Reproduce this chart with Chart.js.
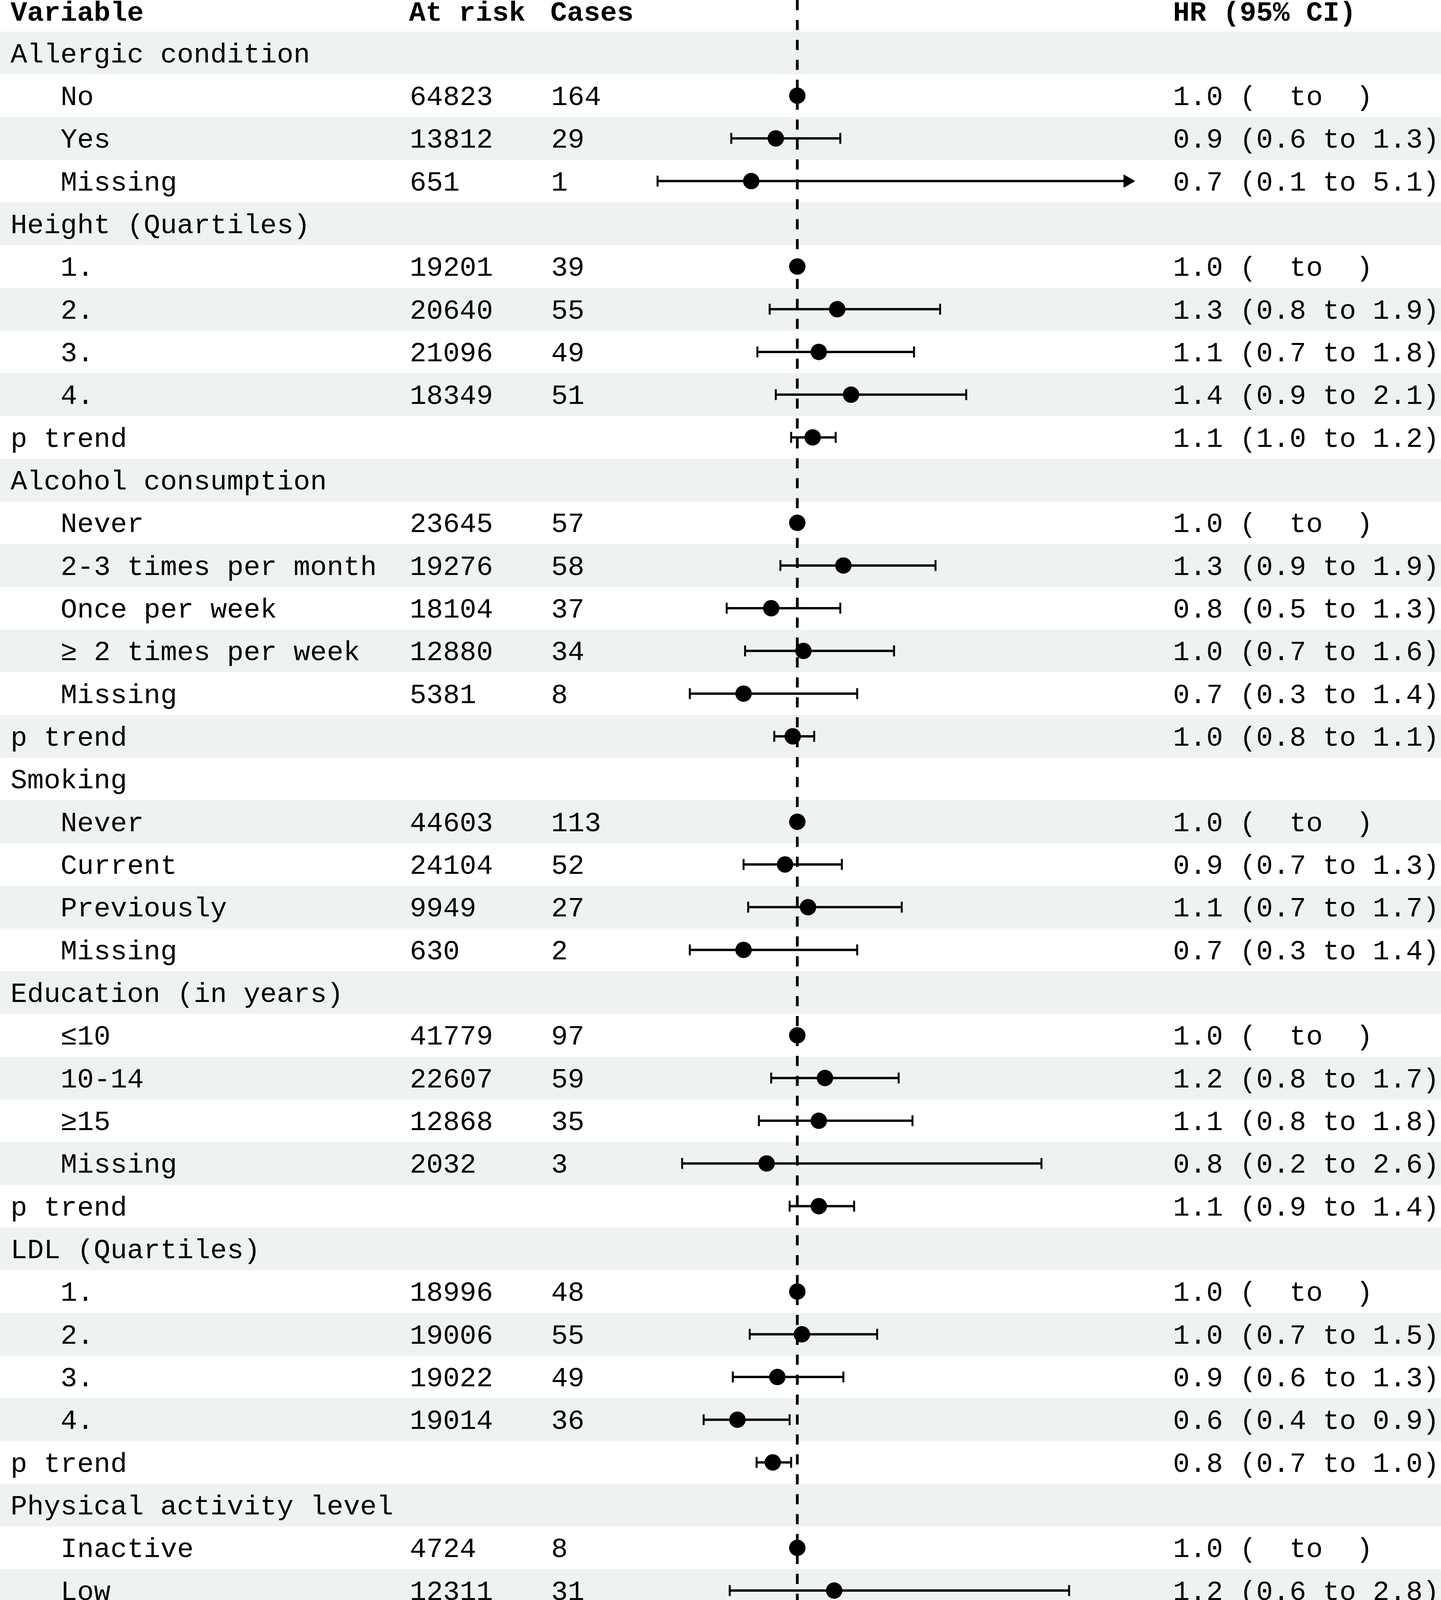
<!DOCTYPE html>
<html>
<head>
<meta charset="utf-8">
<title>Forest plot</title>
<script src="https://cdn.jsdelivr.net/npm/chart.js@4.4.1/dist/chart.umd.min.js"></script>
<style>
    html, body { margin: 0; padding: 0; background: #ffffff; overflow: hidden; }
    #wrap { position: relative; width: 3689px; height: 4724px; }
</style>
</head>
<body>
<div id="wrap"><canvas id="forest"></canvas></div>
<script>
// row labels, index 0 of each array is the first row under the header
const variableLabels = [
    "Allergic condition", "No", "Yes", "Missing",
    "Height (Quartiles)", "1.", "2.", "3.", "4.", "p trend",
    "Alcohol consumption", "Never", "2-3 times per month", "Once per week", "\u2265 2 times per week", "Missing", "p trend",
    "Smoking", "Never", "Current", "Previously", "Missing",
    "Education (in years)", "\u226410", "10-14", "\u226515", "Missing", "p trend",
    "LDL (Quartiles)", "1.", "2.", "3.", "4.", "p trend",
    "Physical activity level", "Inactive", "Low", "Moderate", "High", "Missing", "p trend"
];

// 1 = sub category (indented), 0 = group title or p trend
const indentLevel = [
    0, 1, 1, 1,
    0, 1, 1, 1, 1, 0,
    0, 1, 1, 1, 1, 1, 0,
    0, 1, 1, 1, 1,
    0, 1, 1, 1, 1, 0,
    0, 1, 1, 1, 1, 0,
    0, 1, 1, 1, 1, 1, 0
];

const atRisk = [
    null, "64823", "13812", "651",
    null, "19201", "20640", "21096", "18349", null,
    null, "23645", "19276", "18104", "12880", "5381", null,
    null, "44603", "24104", "9949", "630",
    null, "41779", "22607", "12868", "2032", null,
    null, "18996", "19006", "19022", "19014", null,
    null, "4724", "12311", "17119", "31857", "13275", null
];

const cases = [
    null, "164", "29", "1",
    null, "39", "55", "49", "51", null,
    null, "57", "58", "37", "34", "8", null,
    null, "113", "52", "27", "2",
    null, "97", "59", "35", "3", null,
    null, "48", "55", "49", "36", null,
    null, "8", "31", "40", "78", "37", null
];

// hazard ratios and confidence limits as plotted
const hazardRatio = [
    null, 1.0, 0.86, 0.70,
    null, 1.0, 1.26, 1.14, 1.35, 1.10,
    null, 1.0, 1.30, 0.83, 1.04, 0.65, 0.97,
    null, 1.0, 0.92, 1.07, 0.65,
    null, 1.0, 1.18, 1.14, 0.80, 1.14,
    null, 1.0, 1.03, 0.87, 0.61, 0.84,
    null, 1.0, 1.24, 1.08, 1.14, 1.39, 1.04
];

const ciLower = [
    null, null, 0.57, 0.09,
    null, null, 0.82, 0.74, 0.86, 0.96,
    null, null, 0.89, 0.54, 0.66, 0.30, 0.85,
    null, null, 0.65, 0.68, 0.30,
    null, null, 0.83, 0.75, 0.25, 0.95,
    null, null, 0.69, 0.58, 0.39, 0.735,
    null, null, 0.56, 0.50, 0.54, 0.64, 0.88
];

const ciUpper = [
    null, null, 1.28, 5.1,
    null, null, 1.93, 1.76, 2.10, 1.25,
    null, null, 1.90, 1.28, 1.63, 1.39, 1.11,
    null, null, 1.29, 1.68, 1.39,
    null, null, 1.66, 1.75, 2.59, 1.37,
    null, null, 1.52, 1.30, 0.95, 0.96,
    null, null, 2.77, 2.33, 2.38, 3.01, 1.23
];

const hrLabels = [
    "", "1.0 (  to  )", "0.9 (0.6 to 1.3)", "0.7 (0.1 to 5.1)",
    "", "1.0 (  to  )", "1.3 (0.8 to 1.9)", "1.1 (0.7 to 1.8)", "1.4 (0.9 to 2.1)", "1.1 (1.0 to 1.2)",
    "", "1.0 (  to  )", "1.3 (0.9 to 1.9)", "0.8 (0.5 to 1.3)", "1.0 (0.7 to 1.6)", "0.7 (0.3 to 1.4)", "1.0 (0.8 to 1.1)",
    "", "1.0 (  to  )", "0.9 (0.7 to 1.3)", "1.1 (0.7 to 1.7)", "0.7 (0.3 to 1.4)",
    "", "1.0 (  to  )", "1.2 (0.8 to 1.7)", "1.1 (0.8 to 1.8)", "0.8 (0.2 to 2.6)", "1.1 (0.9 to 1.4)",
    "", "1.0 (  to  )", "1.0 (0.7 to 1.5)", "0.9 (0.6 to 1.3)", "0.6 (0.4 to 0.9)", "0.8 (0.7 to 1.0)",
    "", "1.0 (  to  )", "1.2 (0.6 to 2.8)", "1.1 (0.5 to 2.3)", "1.1 (0.5 to 2.4)", "1.4 (0.6 to 3.0)", "1.0 (0.9 to 1.2)"
];

const headerLabels = ["Variable", "At risk", "Cases", "HR (95% CI)"];
const xTicks = [0, 1, 2, 3];
const REFERENCE_HR = 1.0;

/**
 * axis range and page layout
 */
const X_MIN = 0;
const X_MAX = 3.2;
const Y_MIN = -0.24;   // header row is row 0
const Y_MAX = 42.27;   // position of the x axis
const ARROW_BACKOFF = 0.05;

const MONO = '"Liberation Mono", "Courier New", monospace';
const TEXT_FONT = "71px " + MONO;
const HEADER_FONT = "bold 71px " + MONO;
const BAND_COLOR = "#eef2f0";
const COL_X = { group: 27, sub: 155, atRisk: 1049, cases: 1411, hr: 3003 };
const BASELINE_SHIFT = 24;
const HEADER_SHIFT = 27;

/**
 * shaded bands behind every second row and the text columns of the table
 */
const tablePlugin = {
    id: "forestTable",
    beforeDraw: function (chart) {
        let ctx = chart.ctx;
        let yScale = chart.scales.y;
        ctx.save();
        ctx.fillStyle = BAND_COLOR;
        for (let i = 1; i <= variableLabels.length; i += 2) {
            let top = yScale.getPixelForValue(i - 0.5);
            let bottom = yScale.getPixelForValue(i + 0.5);
            ctx.fillRect(0, top, chart.width, bottom - top);
        }
        ctx.restore();
    },
    afterDraw: function (chart) {
        let ctx = chart.ctx;
        let yScale = chart.scales.y;
        ctx.save();
        ctx.fillStyle = "#000000";
        ctx.textAlign = "left";
        ctx.textBaseline = "alphabetic";

        let headY = yScale.getPixelForValue(0) + HEADER_SHIFT;
        ctx.font = HEADER_FONT;
        ctx.fillText(headerLabels[0], COL_X.group, headY);
        ctx.fillText(headerLabels[1], COL_X.atRisk - 2, headY);
        ctx.fillText(headerLabels[2], COL_X.cases - 2, headY);
        ctx.fillText(headerLabels[3], COL_X.hr, headY);

        ctx.font = TEXT_FONT;
        for (let k = 0; k < variableLabels.length; k++) {
            let y = yScale.getPixelForValue(k + 1) + BASELINE_SHIFT;
            ctx.fillText(variableLabels[k], indentLevel[k] ? COL_X.sub : COL_X.group, y);
            if (atRisk[k] !== null) ctx.fillText(atRisk[k], COL_X.atRisk, y);
            if (cases[k] !== null) ctx.fillText(cases[k], COL_X.cases, y);
            if (hrLabels[k]) ctx.fillText(hrLabels[k], COL_X.hr, y);
        }
        ctx.restore();
    }
};

let datasets = [];

// confidence intervals with end caps, an arrow when the limit leaves the axis
for (let k = 0; k < variableLabels.length; k++) {
    if (ciLower[k] === null) {
        continue;
    }
    let clipped = ciUpper[k] > X_MAX;
    let upperX = clipped ? X_MAX - ARROW_BACKOFF : ciUpper[k];
    datasets.push({
        type: "scatter",
        showLine: true,
        data: [{x: ciLower[k], y: k + 1}, {x: upperX, y: k + 1}],
        borderColor: "#000000",
        borderWidth: 6,
        pointStyle: ["line", clipped ? "triangle" : "line"],
        rotation: 90,
        pointRadius: [14, clipped ? 19 : 14],
        pointBorderWidth: [5, clipped ? 1 : 5],
        pointBorderColor: "#000000",
        pointBackgroundColor: "#000000",
        clip: false,
        order: 2
    });
}

// dashed line of no effect
datasets.push({
    type: "scatter",
    showLine: true,
    data: [{x: REFERENCE_HR, y: Y_MIN}, {x: REFERENCE_HR, y: Y_MAX}],
    borderColor: "#000000",
    borderWidth: 7,
    borderDash: [26, 25],
    pointRadius: 0,
    clip: false,
    order: 1
});

// point estimates
let hrPoints = [];
for (let k = 0; k < variableLabels.length; k++) {
    if (hazardRatio[k] !== null) {
        hrPoints.push({x: hazardRatio[k], y: k + 1});
    }
}
datasets.push({
    type: "scatter",
    data: hrPoints,
    pointStyle: "circle",
    pointRadius: 21,
    pointBackgroundColor: "#000000",
    pointBorderColor: "#000000",
    pointBorderWidth: 0,
    clip: false,
    order: 0
});

new Chart(document.getElementById("forest"), {
    type: "scatter",
    data: { datasets: datasets },
    plugins: [tablePlugin],
    options: {
        responsive: true,
        maintainAspectRatio: false,
        devicePixelRatio: 1,
        animation: false,
        events: [],
        layout: {
            autoPadding: false,
            padding: { left: 1648, right: 783, top: 0, bottom: 0 }
        },
        plugins: {
            legend: { display: false },
            tooltip: { enabled: false }
        },
        scales: {
            x: {
                type: "linear",
                min: X_MIN,
                max: X_MAX,
                afterFit: function (scale) { scale.height = 76; },
                afterBuildTicks: function (scale) {
                    scale.ticks = xTicks.map(function (v) { return {value: v}; });
                },
                ticks: {
                    callback: function (v) { return Number(v).toFixed(1); },
                    font: { family: MONO, size: 56 },
                    color: "#555555",
                    padding: 6,
                    maxRotation: 0,
                    autoSkip: false
                },
                grid: {
                    drawOnChartArea: false,
                    drawTicks: true,
                    tickLength: 30,
                    color: "#333333",
                    lineWidth: 4
                },
                border: { display: true, color: "#000000", width: 5 }
            },
            y: {
                type: "linear",
                display: false,
                reverse: true,
                min: Y_MIN,
                max: Y_MAX
            }
        }
    }
});
</script>
</body>
</html>
